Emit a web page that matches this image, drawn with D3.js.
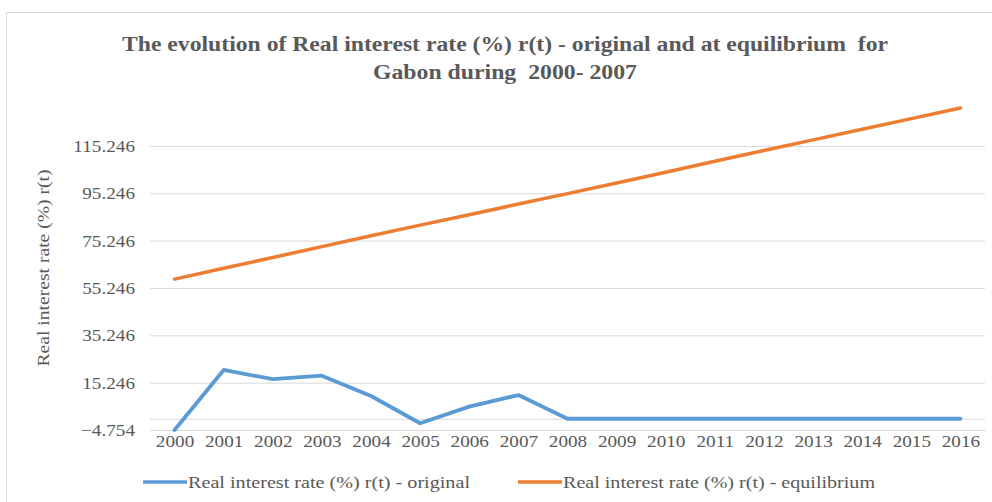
<!DOCTYPE html>
<html>
<head>
<meta charset="utf-8">
<script src="https://cdn.jsdelivr.net/npm/d3@7"></script>
<style>
  html, body { margin: 0; padding: 0; background: #fff; }
  svg { display: block; }
  text { font-family: "Liberation Serif", "Times New Roman", serif; fill: #595959; }
  .pre { white-space: pre; }
</style>
</head>
<body>
<svg id="chart" width="992" height="502"></svg>
<script>
// ---- data ----
const years = ["2000","2001","2002","2003","2004","2005","2006","2007","2008",
               "2009","2010","2011","2012","2013","2014","2015","2016"];
const original = [-4.754, 20.6, 16.7, 18.2, 9.6, -1.9, 5.1, 10.0, 0, 0, 0, 0, 0, 0, 0, 0, 0];
const equilibrium = [59.0, 63.6, 68.1, 72.7, 77.3, 81.8, 86.2, 90.7, 95.1,
                     99.6, 104.1, 108.8, 113.3, 117.8, 122.3, 126.8, 131.3];
const yTicks = [-4.754, 15.246, 35.246, 55.246, 75.246, 95.246, 115.246];
const extraGrid = [0];
const seriesNames = ["Real interest rate (%) r(t) - original", "Real interest rate (%) r(t) - equilibrium"];
const titleLines = ["The evolution of Real interest rate (%) r(t) - original and at equilibrium  for",
                    "Gabon during  2000- 2007"];
const yTitle = "Real interest rate (%) r(t)";

// ---- layout ----
const svg = d3.select("#chart");
const L = 150, R = 985, B = 430;
const SX = 1.13; // horizontal text stretch
const colors = ["#5b9bd5", "#ed7d31"];

svg.append("rect").attr("x", 6.5).attr("y", 12.5).attr("width", 1000).attr("height", 500)
  .attr("fill", "#fff").attr("stroke", "#d9d9d9").attr("stroke-width", 1);

const x = d3.scalePoint().domain(years).range([L, R]).padding(0.5);
const y = d3.scaleLinear().domain([-4.754, 135.246]).range([B, 98.6]);

// gridlines
const grid = svg.append("g").attr("transform", `translate(${L},0)`)
  .call(d3.axisLeft(y).tickValues(yTicks.slice(1).concat(extraGrid)).tickSize(-(R - L)).tickFormat(""));
grid.select(".domain").remove();
grid.selectAll("line").attr("stroke", "#d9d9d9").attr("stroke-width", 1);

// y labels
const yAxis = svg.append("g").attr("transform", `translate(${L},0)`)
  .call(d3.axisLeft(y).tickValues(yTicks).tickSize(0).tickPadding(0).tickFormat(d3.format(".3f")));
yAxis.select(".domain").remove();
yAxis.selectAll("text")
  .attr("x", -15 / SX)
  .attr("transform", `scale(${SX},1)`)
  .style("font-size", "17px").style("font-family", "Liberation Serif").attr("fill", "#595959");

// x axis
const xAxis = svg.append("g").attr("transform", `translate(0,${B})`)
  .call(d3.axisBottom(x).tickSize(0).tickPadding(5));
xAxis.select(".domain").attr("stroke", "#d9d9d9").attr("stroke-width", 1);
xAxis.selectAll(".tick text")
  .attr("transform", `scale(${SX},1)`)
  .style("font-size", "17px").style("font-family", "Liberation Serif").attr("fill", "#595959");

// lines
const line = d3.line().x((d, i) => x(years[i])).y(d => y(d));
[original, equilibrium].forEach((s, k) => {
  svg.append("path").datum(s).attr("d", line)
    .attr("fill", "none").attr("stroke", colors[k]).attr("stroke-width", k === 0 ? 3.8 : 3.5)
    .attr("stroke-linejoin", "round").attr("stroke-linecap", "round");
});

// title
const titleWidths = [766, 264];
titleLines.forEach((t, i) => {
  svg.append("text").attr("class", "pre").attr("x", 505).attr("y", 51 + i * 28).attr("text-anchor", "middle")
    .attr("textLength", titleWidths[i]).attr("lengthAdjust", "spacingAndGlyphs")
    .style("font-size", "20px").style("font-weight", "bold").attr("fill", "#595959").text(t);
});

// y title
svg.append("text").attr("transform", "translate(49,268) rotate(-90)").attr("text-anchor", "middle")
  .attr("textLength", 197).attr("lengthAdjust", "spacingAndGlyphs")
  .style("font-size", "17px").text(yTitle);

// legend
const legX = [143, 518], legW = [282, 312];
seriesNames.forEach((n, k) => {
  svg.append("line").attr("x1", legX[k]).attr("x2", legX[k] + 44).attr("y1", 482).attr("y2", 482)
    .attr("stroke", colors[k]).attr("stroke-width", 3.5);
  svg.append("text").attr("x", legX[k] + 45).attr("y", 488)
    .attr("textLength", legW[k]).attr("lengthAdjust", "spacingAndGlyphs")
    .style("font-size", "17px").text(n);
});
</script>
</body>
</html>
